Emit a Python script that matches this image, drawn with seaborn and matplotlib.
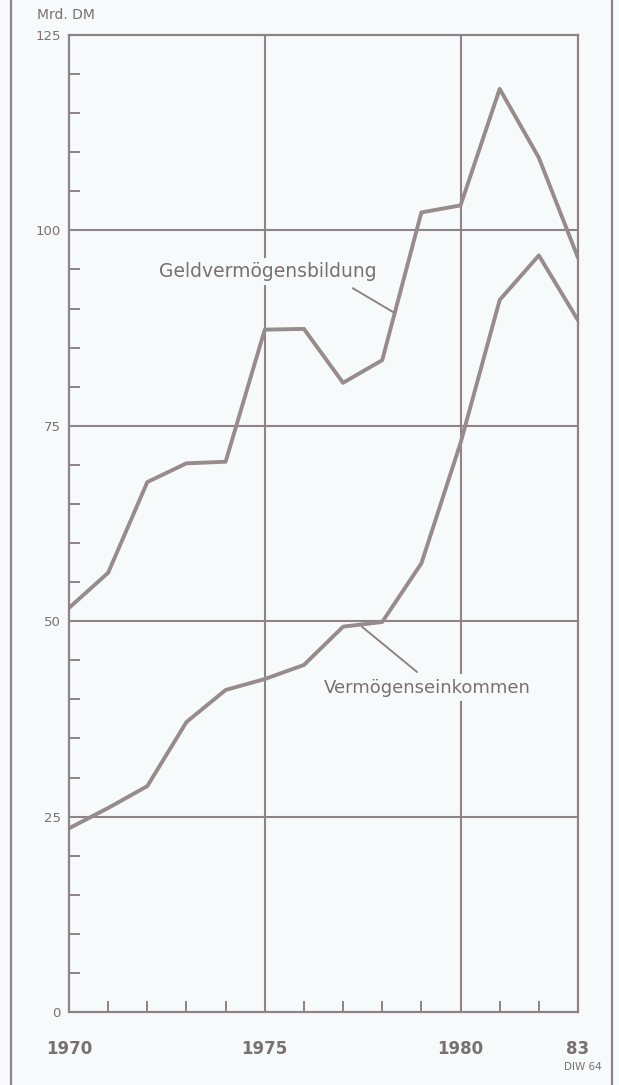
import matplotlib
matplotlib.use("Agg")
import matplotlib.pyplot as plt
from matplotlib.lines import Line2D
from matplotlib.ticker import MultipleLocator, FixedLocator
import seaborn as sns
import pandas as pd

# Daten (Mrd. DM)
years = list(range(1970, 1984))
geldvermoegensbildung = [51.7, 56.2, 67.8, 70.2, 70.4, 87.3, 87.4, 80.5, 83.4, 102.3, 103.2, 118.1, 109.3, 96.5]
vermoegenseinkommen = [23.5, 26.1, 28.9, 37.1, 41.2, 42.6, 44.4, 49.3, 49.9, 57.4, 72.8, 91.1, 96.8, 88.5]
year_labels = ["1970", "1975", "1980", "83"]
year_label_pos = [1970, 1975, 1980, 1983]

df = pd.DataFrame({
    "Jahr": years * 2,
    "Wert": geldvermoegensbildung + vermoegenseinkommen,
    "Reihe": ["Geldvermögensbildung"] * len(years) + ["Vermögenseinkommen"] * len(years),
})

col = "#8f8383"
txt = "#7a7070"
bg = "#f7fafb"

sns.set_style("white")
plt.rcParams["font.family"] = ["DejaVu Sans"]

fig = plt.figure(figsize=(6.19, 10.85), dpi=100, facecolor=bg)
ax = fig.add_axes([69 / 619, 1 - 1012 / 1085, (578 - 69) / 619, (1012 - 35) / 1085])
ax.set_facecolor(bg)

sns.lineplot(data=df, x="Jahr", y="Wert", units="Reihe", estimator=None,
             color="#978b8b", linewidth=2.8, ax=ax, legend=False)

ax.set_xlim(1970, 1983)
ax.set_ylim(0, 125)

# Gitter
for v in [25, 50, 75, 100]:
    ax.axhline(v, color=col, lw=1.5, zorder=0)
for v in [1975, 1980]:
    ax.axvline(v, color=col, lw=1.5, zorder=0)

for s in ax.spines.values():
    s.set_color(col)
    s.set_linewidth(1.6)
    s.set_visible(True)

ax.xaxis.set_major_locator(FixedLocator(year_label_pos))
ax.set_xticklabels(year_labels)
ax.xaxis.set_minor_locator(MultipleLocator(1))
ax.yaxis.set_major_locator(MultipleLocator(25))
ax.yaxis.set_minor_locator(MultipleLocator(5))
ax.tick_params(axis="both", which="both", bottom=True, left=True)
ax.tick_params(axis="x", which="major", length=0, pad=20, labelsize=12, labelcolor=txt)
ax.tick_params(axis="x", which="minor", direction="in", length=8, width=1.4, color=col)
ax.tick_params(axis="y", which="major", length=0, pad=6, labelsize=9.5, labelcolor=txt)
ax.tick_params(axis="y", which="minor", direction="in", length=8, width=1.4, color=col)
for lab in ax.get_xticklabels():
    lab.set_fontweight("bold")
ax.set_xlabel("")
ax.set_ylabel("")

# Beschriftungen
ax.text(1975.08, 94.7, "Geldvermögensbildung", ha="center", va="center", fontsize=13.5,
        color=txt, bbox=dict(facecolor=bg, edgecolor="none", pad=3), zorder=3)
ax.plot([1977.25, 1978.33], [92.6, 89.4], color=col, lw=1.4, zorder=3)
ax.text(1979.14, 41.5, "Vermögenseinkommen", ha="center", va="center", fontsize=13,
        color=txt, bbox=dict(facecolor=bg, edgecolor="none", pad=3), zorder=3)
ax.plot([1977.48, 1978.89], [49.3, 43.5], color=col, lw=1.4, zorder=3)

fig.text(37 / 619, 1 - 15 / 1085, "Mrd. DM", fontsize=10, color=txt, va="center", ha="left")
fig.text(602 / 619, 1 - 1067 / 1085, "DIW 64", fontsize=7.5, color=txt, va="center", ha="right")

# Rahmen links und rechts
fig.add_artist(Line2D([11 / 619, 11 / 619], [0, 1], color=col, lw=1.6, transform=fig.transFigure))
fig.add_artist(Line2D([612 / 619, 612 / 619], [0, 1], color=col, lw=1.6, transform=fig.transFigure))

fig.savefig("out.png", dpi=100, facecolor=bg)
